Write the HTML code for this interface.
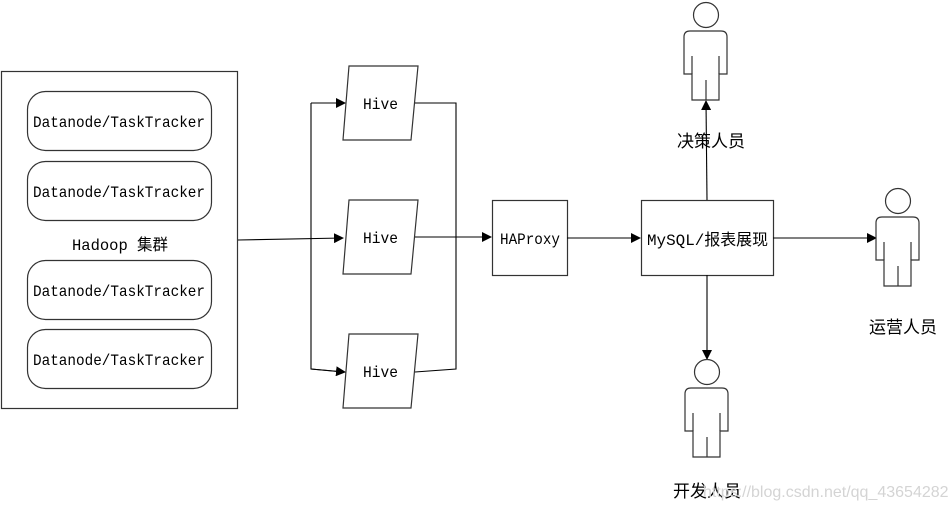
<!DOCTYPE html>
<html><head><meta charset="utf-8"><style>
html,body{margin:0;padding:0;background:#fff;}
svg{display:block;}
text{font-family:"Liberation Mono","WenQuanYi Zen Hei","Noto Sans CJK SC",monospace;font-size:16px;fill:#000;}
.cn{font-family:"Liberation Sans","Noto Sans CJK SC",sans-serif;font-size:17px;}
</style></head><body>
<svg width="950" height="510" viewBox="0 0 950 510" xmlns="http://www.w3.org/2000/svg">
<defs>
<marker id="a" markerWidth="10" markerHeight="10" refX="9" refY="5" orient="auto" markerUnits="userSpaceOnUse"><path d="M0,0 L10,5 L0,10 z" fill="#000"/></marker>
<g id="p" fill="#fff" stroke="#333" stroke-width="1.2">
<circle cx="706" cy="15" r="12.5"/>
<path d="M684,74 L684,37 Q684,31 690,31 L721,31 Q727,31 727,37 L727,74 L719,74 L719,100 L692,100 L692,74 Z"/>
<path d="M692,56 L692,74 M719,56 L719,74 M706,80 L706,100" fill="none"/>
</g>
</defs>
<g fill="none" stroke="#333" stroke-width="1.2">
<rect x="1.5" y="71.5" width="236" height="337"/>
<rect x="27.5" y="91.5" width="184" height="59" rx="18"/>
<rect x="27.5" y="161.5" width="184" height="59" rx="18"/>
<rect x="27.5" y="260.5" width="184" height="59" rx="18"/>
<rect x="27.5" y="329.5" width="184" height="59" rx="18"/>
<path d="M349,66 L418,66 L411,140 L343,140 Z"/>
<path d="M349,200 L418,200 L411,274 L343,274 Z"/>
<path d="M349,334 L418,334 L411,408 L343,408 Z"/>
<rect x="492.5" y="200.5" width="75" height="75"/>
<rect x="641.5" y="200.5" width="132" height="75"/>
</g>
<g stroke="#000" stroke-width="1.1" fill="none">
<path d="M238,240 L343,238" marker-end="url(#a)"/>
<path d="M311,103 L311,369 L343,372"/>
<path d="M311,103 L345,103" marker-end="url(#a)"/>
<path d="M311,369 L345,372" marker-end="url(#a)"/>
<path d="M415,103 L456,103 L456,369 L415,372"/>
<path d="M415,237 L491,237" marker-end="url(#a)"/>
<path d="M567,238 L640,238" marker-end="url(#a)"/>
<path d="M707,200 L706,101" marker-end="url(#a)"/>
<path d="M707,275 L707,359" marker-end="url(#a)"/>
<path d="M773,238 L876,238" marker-end="url(#a)"/>
</g>
<use href="#p"/>
<use href="#p" transform="translate(192,186)"/>
<use href="#p" transform="translate(1,357)"/>
<g>
<text x="33" y="127" textLength="172" lengthAdjust="spacingAndGlyphs">Datanode/TaskTracker</text>
<text x="33" y="197" textLength="172" lengthAdjust="spacingAndGlyphs">Datanode/TaskTracker</text>
<text x="33" y="296" textLength="172" lengthAdjust="spacingAndGlyphs">Datanode/TaskTracker</text>
<text x="33" y="365" textLength="172" lengthAdjust="spacingAndGlyphs">Datanode/TaskTracker</text>
<text x="72" y="250" textLength="96" lengthAdjust="spacingAndGlyphs">Hadoop 集群</text>
<text x="363" y="109" textLength="35" lengthAdjust="spacingAndGlyphs">Hive</text>
<text x="363" y="243" textLength="35" lengthAdjust="spacingAndGlyphs">Hive</text>
<text x="363" y="377" textLength="35" lengthAdjust="spacingAndGlyphs">Hive</text>
<text x="500" y="244" textLength="60" lengthAdjust="spacingAndGlyphs">HAProxy</text>
<text x="647" y="245" textLength="121" lengthAdjust="spacingAndGlyphs">MySQL/报表展现</text>
</g>
<g text-anchor="middle">
<text class="cn" x="711" y="147">决策人员</text>
<text class="cn" x="903" y="333">运营人员</text>
<text class="cn" x="707" y="497">开发人员</text>
</g>
<text x="703" y="497" style="font-family:'Liberation Sans',sans-serif;font-size:16px;fill:#d4d4d4">https://blog.csdn.net/qq_43654282</text>
</svg>
</body></html>
